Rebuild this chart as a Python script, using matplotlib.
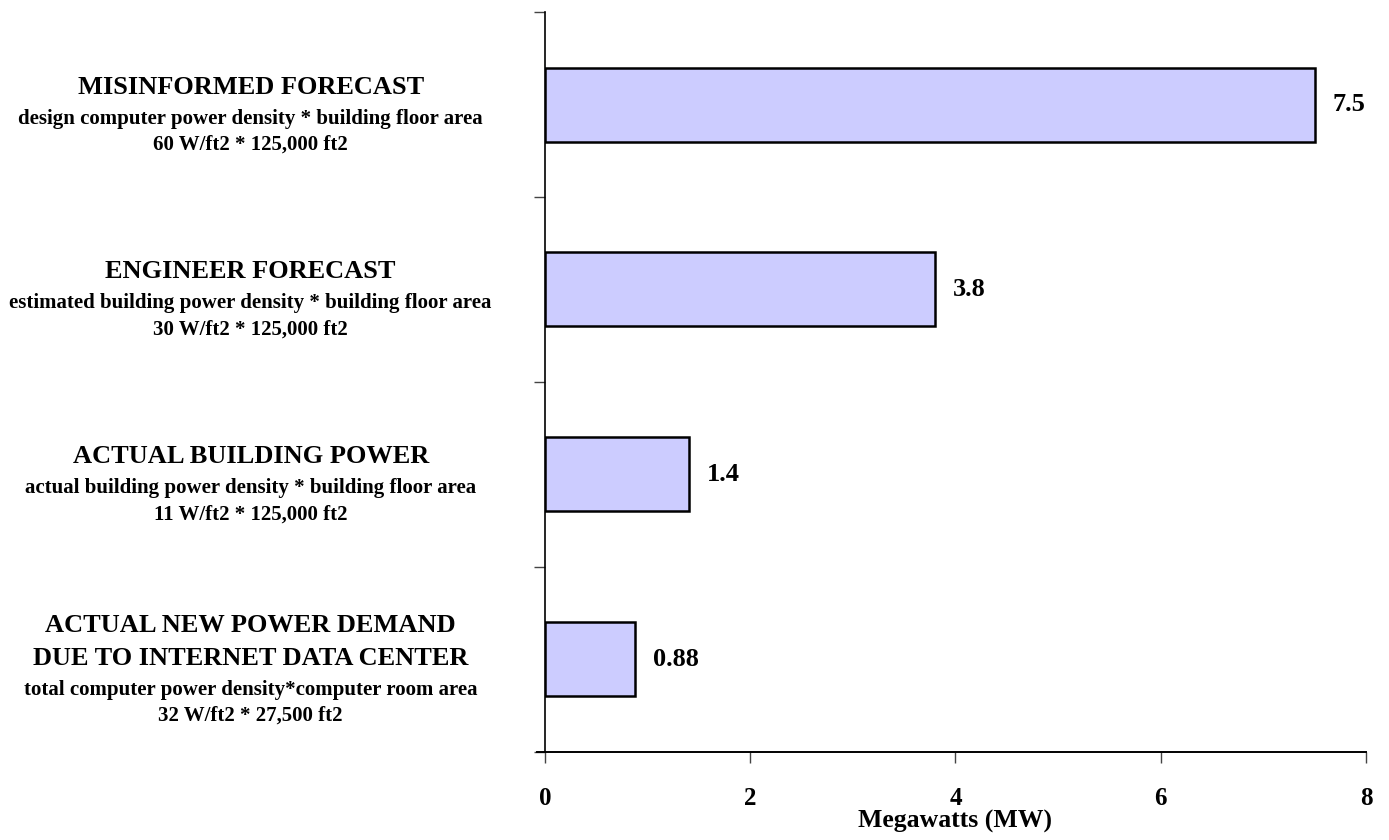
import numpy as np
import matplotlib.pyplot as plt

# categories listed bottom -> top
headings = [
    ["ACTUAL NEW POWER DEMAND", "DUE TO INTERNET DATA CENTER"],
    ["ACTUAL BUILDING POWER"],
    ["ENGINEER FORECAST"],
    ["MISINFORMED FORECAST"],
]
subtitles = [
    ["total computer power density*computer room area", "32 W/ft2 * 27,500 ft2"],
    ["actual building power density * building floor area", "11 W/ft2 * 125,000 ft2"],
    ["estimated building power density * building floor area", "30 W/ft2 * 125,000 ft2"],
    ["design computer power density * building floor area", "60 W/ft2 * 125,000 ft2"],
]
values = [0.88, 1.4, 3.8, 7.5]
value_labels = ["0.88", "1.4", "3.8", "7.5"]
xticks = [0, 2, 4, 6, 8]

BAR_C = "#CCCCFF"
plt.rcParams["font.family"] = ["Liberation Serif", "DejaVu Serif"]
plt.rcParams["font.weight"] = "bold"

fig = plt.figure(figsize=(13.89, 8.4), dpi=100)
ax = fig.add_axes([0.3924, 0.1048, 0.5910, 0.8809])

ypos = np.arange(len(values))
ax.barh(ypos, values, height=0.4, color=BAR_C, edgecolor="black", lw=1.8, zorder=2)

for y, v, lab in zip(ypos, values, value_labels):
    ax.annotate(lab, (v, y), xytext=(18, 0), textcoords="offset pixels",
                ha="left", va="center", fontsize=19, fontweight="bold")

# category label blocks to the left of the axis
H_HEAD, H_SUB1, H_SUB = 33, 30, 26
for y, heads, subs in zip(ypos, headings, subtitles):
    steps = [0]
    for i in range(1, len(heads)):
        steps.append(steps[-1] + H_HEAD)
    for i in range(len(subs)):
        steps.append(steps[-1] + (H_SUB1 if i == 0 else H_SUB))
    mid = (steps[0] + steps[-1]) / 2
    lines = [(t, 19) for t in heads] + [(t, 15) for t in subs]
    for (txt, fs), s in zip(lines, steps):
        ax.annotate(txt, (-0.3586, y), xycoords=ax.get_yaxis_transform(),
                    xytext=(0, -(s - mid) - 17), textcoords="offset pixels",
                    ha="center", va="baseline", fontsize=fs, fontweight="bold",
                    annotation_clip=False)

ax.set_xlim(0, 8)
ax.set_ylim(-0.5, len(values) - 0.5)
ax.set_xticks(xticks)
ax.set_xticklabels([str(t) for t in xticks], fontsize=18, fontweight="bold")
ax.set_yticks(np.arange(-0.5, len(values), 1.0))
ax.set_yticklabels([])
ax.tick_params(axis="both", direction="out", length=8, width=1, color="#444444")
ax.tick_params(axis="x", pad=17)

ax.spines["top"].set_visible(False)
ax.spines["right"].set_visible(False)
ax.spines["left"].set_linewidth(1.2)
ax.spines["bottom"].set_linewidth(1.4)
ax.spines["bottom"].set_bounds(-0.08, 8)

ax.set_xlabel("Megawatts (MW)", fontsize=18.5, fontweight="bold", labelpad=0)

fig.savefig("out.png", dpi=100, facecolor="white")
